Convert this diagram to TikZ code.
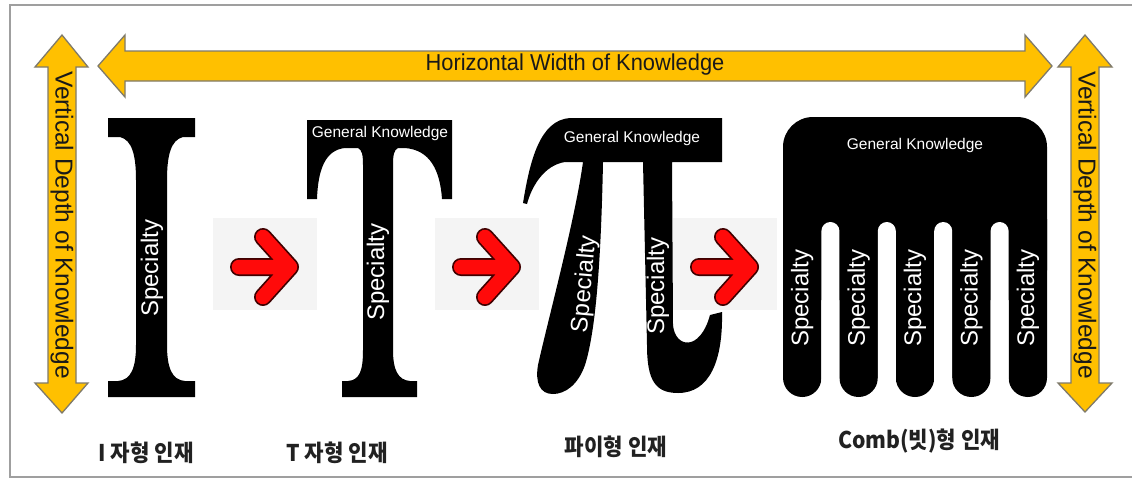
\documentclass[tikz,border=0pt]{standalone}
\usepackage{fontspec}
\setmainfont{Liberation Sans}
\newfontfamily\kr{Noto Sans CJK KR}
\definecolor{gold}{HTML}{FFC000}
\definecolor{goldedge}{HTML}{7F7A6A}
\definecolor{arrowred}{HTML}{FF0A0A}
\definecolor{arrowbg}{HTML}{F4F4F4}
\begin{document}
\begin{tikzpicture}[x=1pt,y=-1pt,
  goldarrow/.style={fill=gold, draw=goldedge, line width=1.3pt, line join=miter},
  glyph/.style={fill=black},
  spec/.style={text=white, inner sep=0pt, font=\fontsize{24}{24}\selectfont},
  gk/.style={text=white, inner sep=0pt, font=\fontsize{15.5}{16}\selectfont},
  axis/.style={text=black!90, inner sep=0pt},
  lbl/.style={inner sep=0pt, text=black!87, xscale=0.92, font=\kr\bfseries\fontsize{23}{23}\selectfont},
  redout/.style={draw=black!75!red, line width=18pt, line cap=round, line join=round},
  redin/.style={draw=arrowred, line width=14.5pt, line cap=round, line join=round}]
\useasboundingbox (0,0) rectangle (1132,480);
\fill[white] (0,0) rectangle (1132,480);
\draw[gray!75, line width=1.6pt] (10,5) rectangle (1145,477);

% gold double arrows
\draw[goldarrow] (98,66) -- (125,35) -- (125,51) -- (1025,51) -- (1025,35) -- (1052,66)
  -- (1025,97) -- (1025,81) -- (125,81) -- (125,97) -- cycle;
\node[axis, xscale=0.95, font=\fontsize{23}{23}\selectfont] (hw) at (575,65) {Horizontal Width of Knowledge};

\draw[goldarrow] (62,35) -- (88,67) -- (76,67) -- (76,383) -- (88,383) -- (62,413)
  -- (35,383) -- (48,383) -- (48,67) -- (35,67) -- cycle;
\node[axis, rotate=-90, font=\fontsize{24.5}{25}\selectfont] (vdl) at (62,225) {Vertical Depth of Knowledge};

\draw[goldarrow] (1085,35) -- (1112,67) -- (1099,67) -- (1099,383) -- (1112,383) -- (1085,412)
  -- (1058,383) -- (1071,383) -- (1071,67) -- (1058,67) -- cycle;
\node[axis, rotate=-90, font=\fontsize{24.5}{25}\selectfont] (vdr) at (1085,225) {Vertical Depth of Knowledge};

% red arrows
\foreach \bx/\nm in {213/ra, 435/rb, 673/rc} {
  \fill[arrowbg] (\bx,218) coordinate (\nm) rectangle ++(104,92);
  \draw[redout] (\bx+26,267) -- (\bx+74,267) (\bx+50,237) -- (\bx+77,267) -- (\bx+50,297);
  \draw[redin] (\bx+26,267) -- (\bx+74,267) (\bx+50,237) -- (\bx+77,267) -- (\bx+50,297);
}

% I
\fill[glyph] (108,118) -- (195,118) -- (195,137) -- (183,137)
  .. controls (171,140) and (167,155) .. (167,180) -- (167,345)
  .. controls (167,368) and (172,380) .. (185,381) -- (195,381) -- (195,397)
  -- (108,397) -- (108,381) -- (118,381)
  .. controls (131,380) and (136,368) .. (136,345) -- (136,180)
  .. controls (136,155) and (132,140) .. (120,137) -- (108,137) -- cycle;
\node[spec, rotate=90] (specI) at (152,268) {Specialty};

% T
\fill[glyph] (307,120) -- (452,120) -- (452,199) -- (442,199)
  .. controls (440,170) and (430,150) .. (405,148) -- (398,148)
  .. controls (394,150) and (393,155) .. (393,165) -- (393,350)
  .. controls (393,370) and (398,380) .. (410,381) -- (417,381) -- (417,397)
  -- (342,397) -- (342,381) -- (348,381)
  .. controls (360,380) and (363,370) .. (363,350) -- (363,165)
  .. controls (363,155) and (362,150) .. (358,148) -- (345,148)
  .. controls (325,150) and (318,170) .. (317,199) -- (307,199) -- cycle;
\node[gk] (gkT) at (380,133) {General Knowledge};
\node[spec, rotate=90] (specT) at (378,272) {Specialty};

% Pi
\fill[glyph] (523,203) .. controls (530,160) and (540,120) .. (570,118) -- (722,118)
  -- (722,162) -- (672,162) -- (673,325)
  .. controls (675,348) and (700,352) .. (710,315) -- (722,312)
  .. controls (723,360) and (710,393) .. (678,393)
  .. controls (655,393) and (647,380) .. (647,345) -- (643,162) -- (603,162)
  .. controls (601,260) and (596,330) .. (585,365)
  .. controls (578,385) and (565,394) .. (553,394)
  .. controls (540,394) and (535,383) .. (538,365)
  .. controls (548,320) and (575,220) .. (583,162) -- (565,162)
  .. controls (545,165) and (532,185) .. (527,204) -- cycle;
\node[gk] (gkPi) at (632,138) {General Knowledge};
\node[spec, rotate=85] (specPa) at (585,284) {Specialty};
\node[spec, rotate=90] (specPb) at (658,286) {Specialty};

% Comb
\fill[glyph, rounded corners=30pt] (783,117) rectangle (1047,300);
\foreach \i in {0,...,4} {
  \fill[glyph, rounded corners=19.2pt] ({783+56.4*\i},200) -- ({783+56.4*\i},397)
    -- ({821.4+56.4*\i},397) -- ({821.4+56.4*\i},200) -- cycle;
  \node[spec, rotate=90] (specC\i) at ({802.2+56.4*\i},298) {Specialty};
}
\foreach \i in {0,...,3} {
  \fill[white, rounded corners=9pt] ({821.4+56.4*\i},402) -- ({821.4+56.4*\i},222)
    -- ({839.4+56.4*\i},222) -- ({839.4+56.4*\i},402);
}
\node[gk] (gkC) at (915,145) {General Knowledge};

% labels
\node[lbl] (lI) at (146,453) {I 자형 인재};
\node[lbl] (lT) at (337,453) {T 자형 인재};
\node[lbl] (lPi) at (616,447) {파이형 인재};
\node[lbl] (lC) at (919,441) {Comb(빗)형 인재};
\end{tikzpicture}
\end{document}
